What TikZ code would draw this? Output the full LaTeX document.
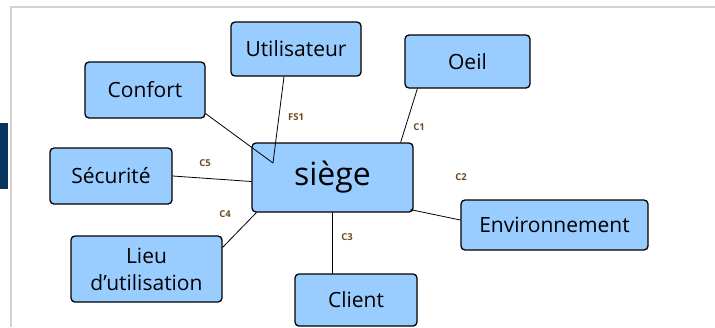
\documentclass[tikz,border=0pt]{standalone}
\usepackage{fontspec}
\setmainfont{Open Sans}
\definecolor{bleuboite}{RGB}{153,204,255}
\definecolor{marine}{RGB}{10,52,96}
\definecolor{etiq}{RGB}{110,75,30}
\begin{document}
\begin{tikzpicture}[x=1pt, y=-1pt, line join=round, line cap=round,
	boite/.style={draw, line width=1.3pt, fill=bleuboite, rounded corners=4pt, inner sep=0pt, font=\fontsize{21}{24}\selectfont},
	lien/.style={line width=0.8pt},
	etiquette/.style={text=etiq, inner sep=0pt, font=\fontsize{9.5}{10}\selectfont\bfseries}]
	% cadre et fond
	\useasboundingbox (0,0) rectangle (715,327);
	\fill[marine] (0,123) rectangle (8,189);
	\draw[gray!35, line width=2pt, line cap=butt] (11,327) -- (11,7) -- (715,7);
	% les boites
	\node[boite, minimum width=161pt, minimum height=69pt, font=\fontsize{32}{36}\selectfont] (siege) at (332.5,177.5) {siège};
	\node[boite, minimum width=130pt, minimum height=54pt] (util) at (296,49) {Utilisateur};
	\node[boite, minimum width=120pt, minimum height=56pt] (confort) at (145,90) {Confort};
	\node[boite, minimum width=125pt, minimum height=53pt] (oeil) at (467.5,61.5) {Oeil};
	\node[boite, minimum width=122pt, minimum height=56pt] (secu) at (111,176) {Sécurité};
	\node[boite, minimum width=151pt, minimum height=66pt, align=center] (lieu) at (146.5,269) {Lieu\\[3pt]d'utilisation};
	\node[boite, minimum width=122pt, minimum height=52pt] (client) at (356,300) {Client};
	\node[boite, minimum width=187pt, minimum height=50pt] (env) at (554.5,225) {Environnement};
	% les liens
	\coordinate (pointe) at (273,163);
	\draw[lien] ([xshift=-12pt]util.south) -- (pointe) -- ([yshift=5pt]confort.south east);
	\draw[lien] ([xshift=13pt]oeil.south west) -- ([xshift=-13pt]siege.north east);
	\draw[lien] (secu.east) -- ([yshift=-4pt]siege.west);
	\draw[lien] ([yshift=-12pt]lieu.north east) -- ([xshift=5pt]siege.south west);
	\draw[lien] (siege.south) -- (siege.south |- client.north);
	\draw[lien] ([xshift=-3pt, yshift=3pt]siege.south east) -- ([yshift=5pt]env.west);
	% les etiquettes
	\node[etiquette] (fs1) at (296,117) {FS1};
	\node[etiquette] (c1) at (419,127) {C1};
	\node[etiquette] (c5) at (205,163) {C5};
	\node[etiquette] (c2) at (461,177) {C2};
	\node[etiquette] (c4) at (225,214) {C4};
	\node[etiquette] (c3) at (347,237) {C3};
\end{tikzpicture}
\end{document}
